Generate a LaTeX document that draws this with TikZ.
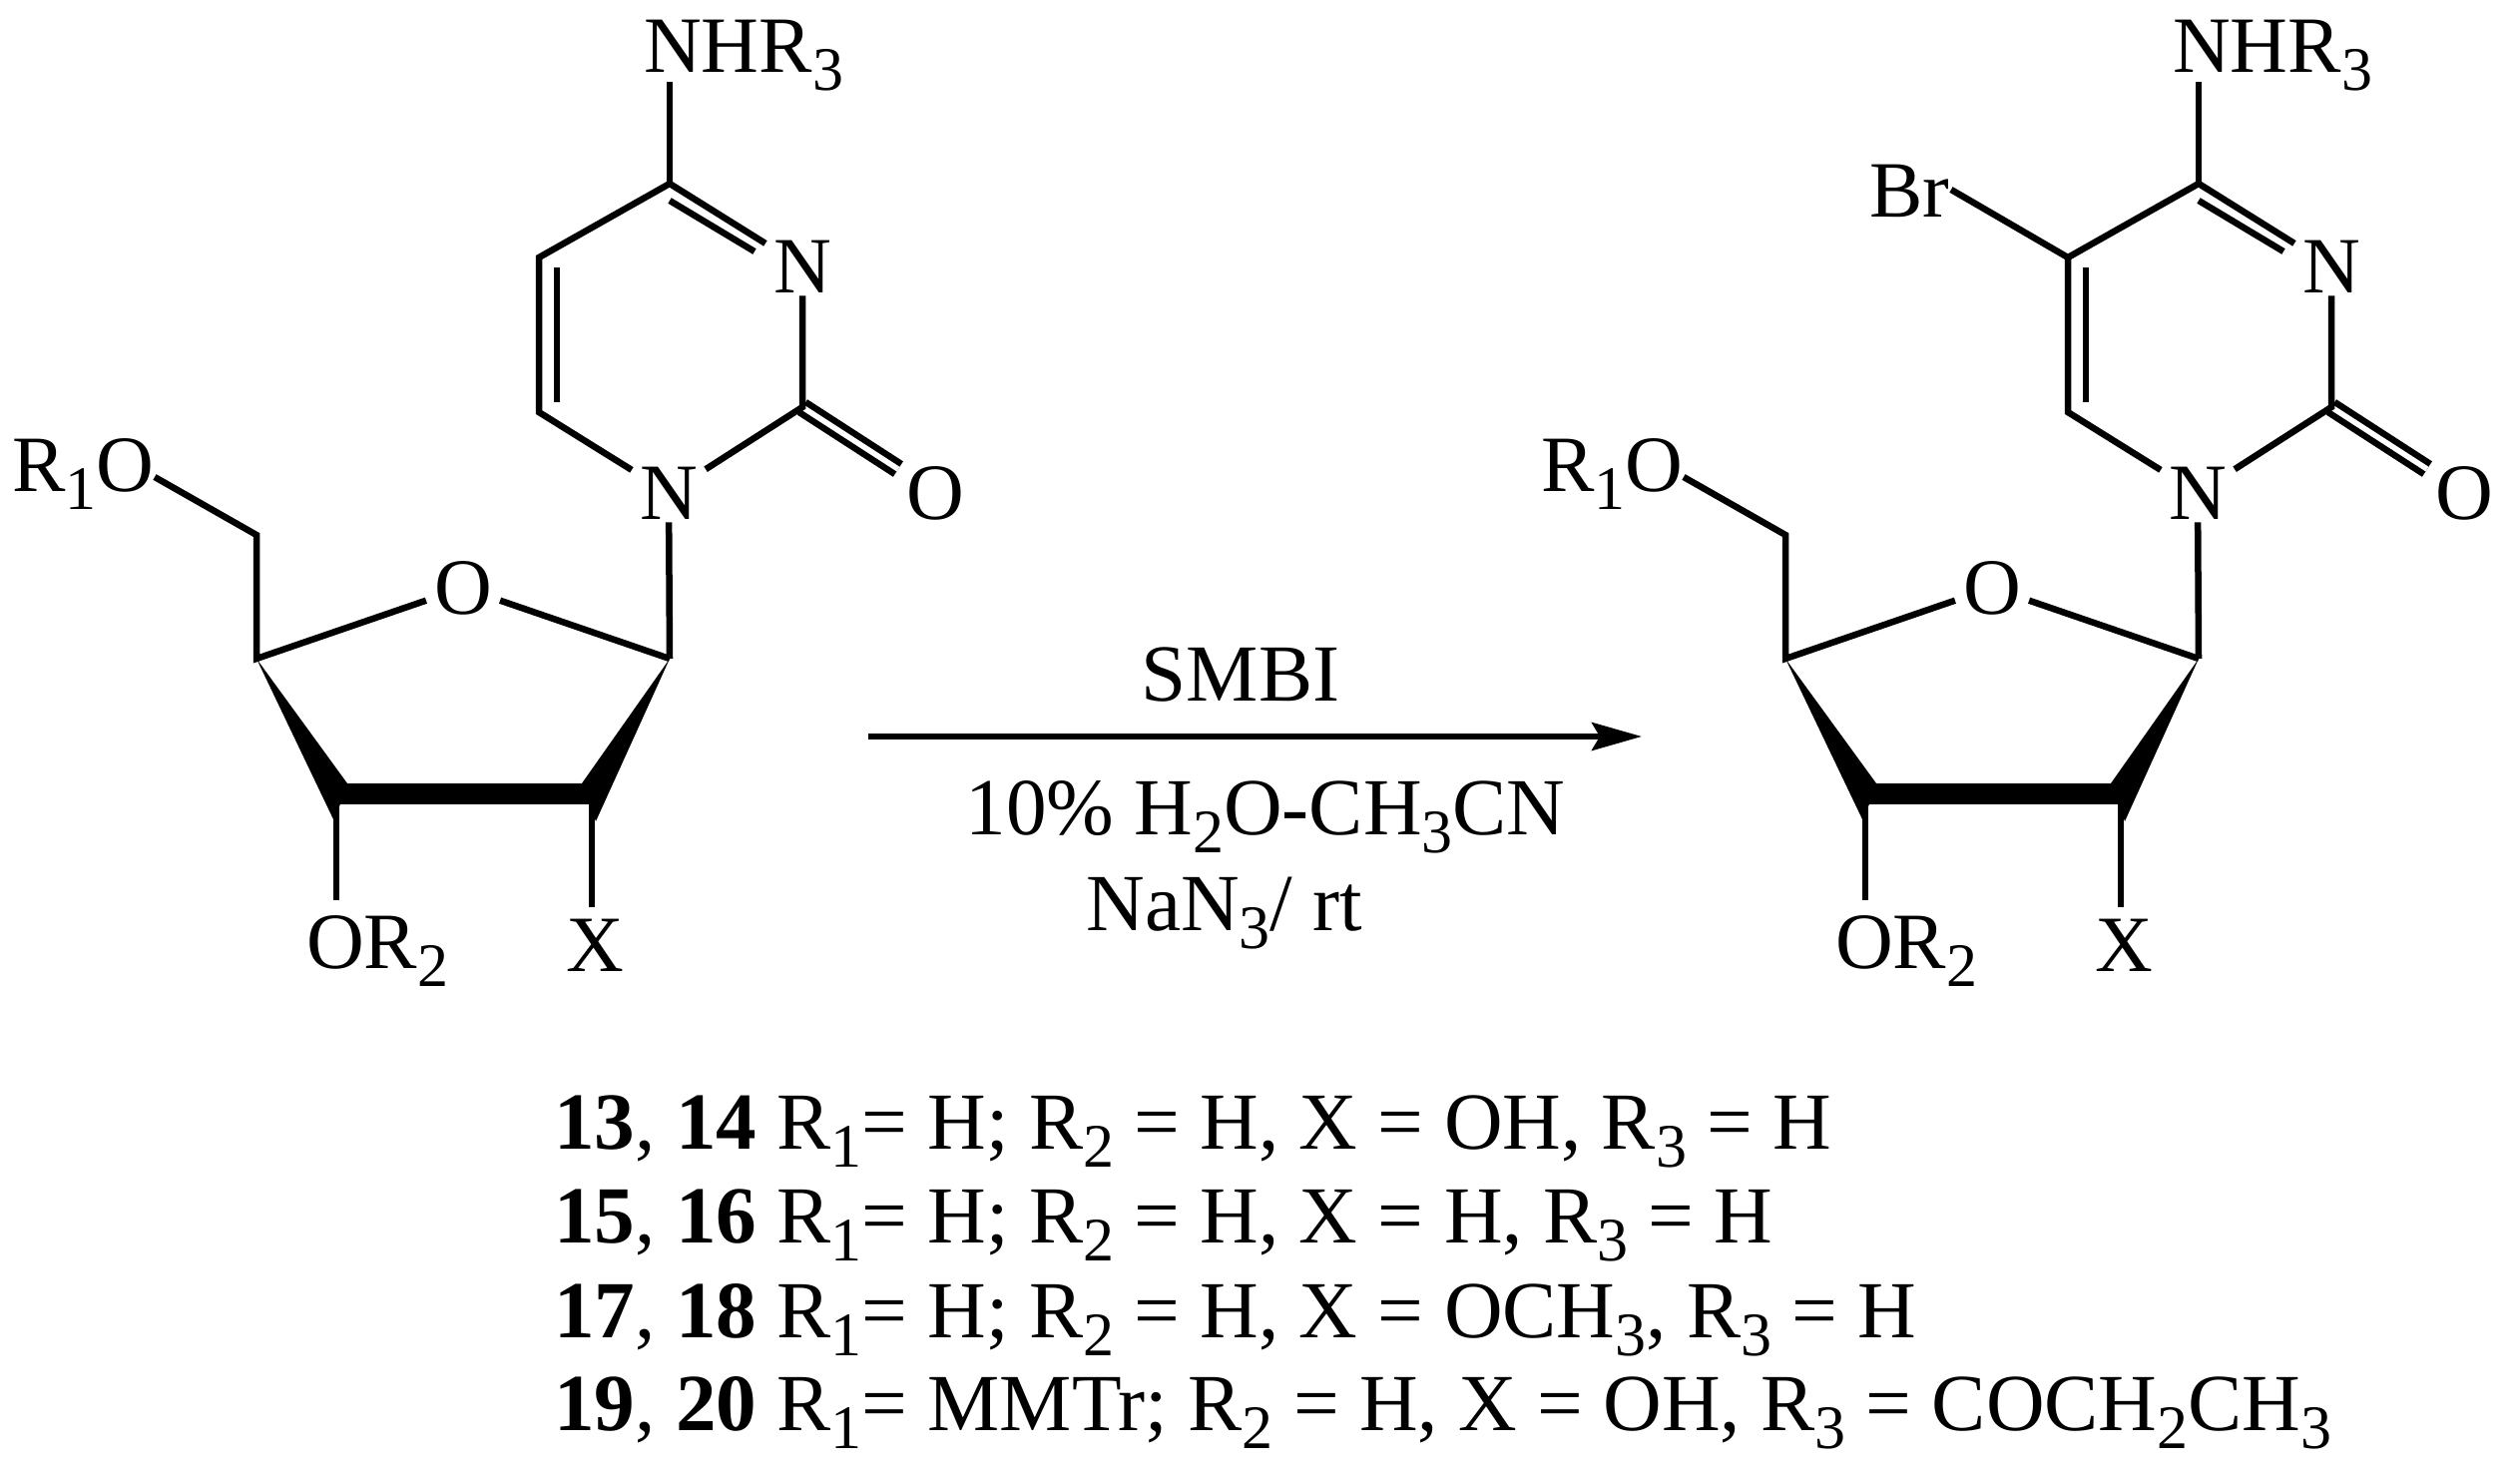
\documentclass[tikz,border=0pt]{standalone}
\usepackage{fontspec}
\setmainfont{Liberation Serif}
\usetikzlibrary{arrows.meta}
\newcommand{\chemfont}{\fontsize{80}{80}\selectfont}
\newcommand{\legfont}{\fontsize{81.2}{81}\selectfont}
\newcommand{\subsc}[1]{\raisebox{-18pt}{\fontsize{62}{62}\selectfont #1}}
\tikzstyle{atom} = [rectangle, inner xsep=8pt, inner ysep=3pt]
\tikzstyle{group} = [inner sep=0pt, anchor=base west]
\tikzstyle{legend} = [inner sep=0pt, anchor=base west, font=\legfont]
\tikzstyle{cond} = [inner sep=0pt, anchor=base, font=\legfont]
\tikzstyle{bond} = [line width=6.5pt]
\tikzstyle{dblbond} = [line width=6.5pt, double, double distance=5.5pt]
\tikzstyle{boldbond} = [line width=21pt]
\tikzstyle{arrow} = [line width=6pt,-{Stealth[length=50pt,width=28pt,inset=8pt]}]

\begin{document}
\begin{tikzpicture}[x=1pt,y=-1pt,font=\chemfont]
\useasboundingbox (0,0) rectangle (2525,1480);
% left molecule
\coordinate (c4) at (671,184);
\coordinate (c5) at (540,258);
\coordinate (c6) at (540,413);
\coordinate (c2) at (804,408);
\coordinate (c1p) at (671,660);
\coordinate (c2p) at (593,795);
\coordinate (c3p) at (337,795);
\coordinate (c4p) at (257,660);
\coordinate (c5p) at (257,536);
\coordinate (c5i) at (558,268);
\coordinate (c6i) at (558,403);
\coordinate (c4i) at (671,201);
\coordinate (n3i) at (756,252);
\coordinate (nhrb) at (671,82);
\coordinate (r1ob) at (155,478);
\coordinate (or2b) at (337,902);
\coordinate (xe) at (593,909);
\node (n3) [atom] at (804,267) {N};
\node (n1) [atom] at (670,494) {N};
\node (o2) [atom] at (937,494) {O};
\node (o4p) [atom] at (464,589) {O};
\node (x) [atom] at (596,947) {X};
\node (nhr) [group] at (645,73) {NHR\subsc{3}};
\node (r1o) [group] at (12,492) {R\subsc{1}O};
\node (or2) [group] at (307,970) {OR\subsc{2}};
\draw [dblbond] (c2) -- (o2);
\draw [bond] (n3) -- (c4) -- (c5) -- (c6) -- (n1);
\draw [bond] (n1) -- (c2) -- (n3);
\draw [bond] (c4i) -- (n3i);
\draw [bond] (c5i) -- (c6i);
\draw [bond] (c4) -- (nhrb);
\draw [bond] (n1) -- (c1p);
\draw [bond] (o4p) -- (c1p);
\draw [bond] (o4p) -- (c4p) -- (c5p) -- (r1ob);
\draw [boldbond] (c3p) -- (c2p);
\fill (c4p) -- (348,785) -- (335,823) -- cycle;
\fill (c1p) -- (583,785) -- (597,823) -- cycle;
\draw [bond] (c3p) -- (or2b);
\draw [bond] (c2p) -- (xe);
% right molecule
\begin{scope}[xshift=1532pt]
\coordinate (c4b) at (671,184);
\coordinate (c5b) at (540,258);
\coordinate (c6b) at (540,413);
\coordinate (c2b) at (804,408);
\coordinate (c1pb) at (671,660);
\coordinate (c2pb) at (593,795);
\coordinate (c3pb) at (337,795);
\coordinate (c4pb) at (257,660);
\coordinate (c5pb) at (257,536);
\coordinate (c5ib) at (558,268);
\coordinate (c6ib) at (558,403);
\coordinate (c4ib) at (671,201);
\coordinate (n3ib) at (756,252);
\coordinate (nhrbb) at (671,82);
\coordinate (r1obb) at (155,478);
\coordinate (or2bb) at (337,902);
\coordinate (xeb) at (593,909);
\coordinate (brb) at (423,190);
\node (n3b) [atom] at (804,267) {N};
\node (n1b) [atom] at (670,494) {N};
\node (o2b) [atom] at (937,494) {O};
\node (o4pb) [atom] at (464,589) {O};
\node (xb) [atom] at (596,947) {X};
\node (br) [group] at (341,217) {Br};
\node (nhrr) [group] at (645,73) {NHR\subsc{3}};
\node (r1or) [group] at (12,492) {R\subsc{1}O};
\node (or2r) [group] at (307,970) {OR\subsc{2}};
\draw [dblbond] (c2b) -- (o2b);
\draw [bond] (n3b) -- (c4b) -- (c5b) -- (c6b) -- (n1b);
\draw [bond] (n1b) -- (c2b) -- (n3b);
\draw [bond] (c4ib) -- (n3ib);
\draw [bond] (c5ib) -- (c6ib);
\draw [bond] (c4b) -- (nhrbb);
\draw [bond] (c5b) -- (brb);
\draw [bond] (n1b) -- (c1pb);
\draw [bond] (o4pb) -- (c1pb);
\draw [bond] (o4pb) -- (c4pb) -- (c5pb) -- (r1obb);
\draw [boldbond] (c3pb) -- (c2pb);
\fill (c4pb) -- (348,785) -- (335,823) -- cycle;
\fill (c1pb) -- (583,785) -- (597,823) -- cycle;
\draw [bond] (c3pb) -- (or2bb);
\draw [bond] (c2pb) -- (xeb);
\end{scope}
% reaction arrow
\coordinate (arrowl) at (870,738);
\coordinate (arrowr) at (1645,738);
\draw [arrow] (arrowl) -- (arrowr);
\node (smbi) [cond] at (1243,702) {SMBI};
\node (solv) [cond] at (1268,836) {10\% H\subsc{2}O-CH\subsc{3}CN};
\node (azide) [cond] at (1227,932) {NaN\subsc{3}/ rt};
% compound list
\node (leg1) [legend] at (555,1151) {\textbf{13}, \textbf{14} R\subsc{1}= H; R\subsc{2} = H, X = OH, R\subsc{3} = H};
\node (leg2) [legend] at (555,1245) {\textbf{15}, \textbf{16} R\subsc{1}= H; R\subsc{2} = H, X = H, R\subsc{3} = H};
\node (leg3) [legend] at (555,1340) {\textbf{17}, \textbf{18} R\subsc{1}= H; R\subsc{2} = H, X = OCH\subsc{3}, R\subsc{3} = H};
\node (leg4) [legend] at (555,1433) {\textbf{19}, \textbf{20} R\subsc{1}= MMTr; R\subsc{2} = H, X = OH, R\subsc{3} = COCH\subsc{2}CH\subsc{3}};
\end{tikzpicture}
\end{document}
